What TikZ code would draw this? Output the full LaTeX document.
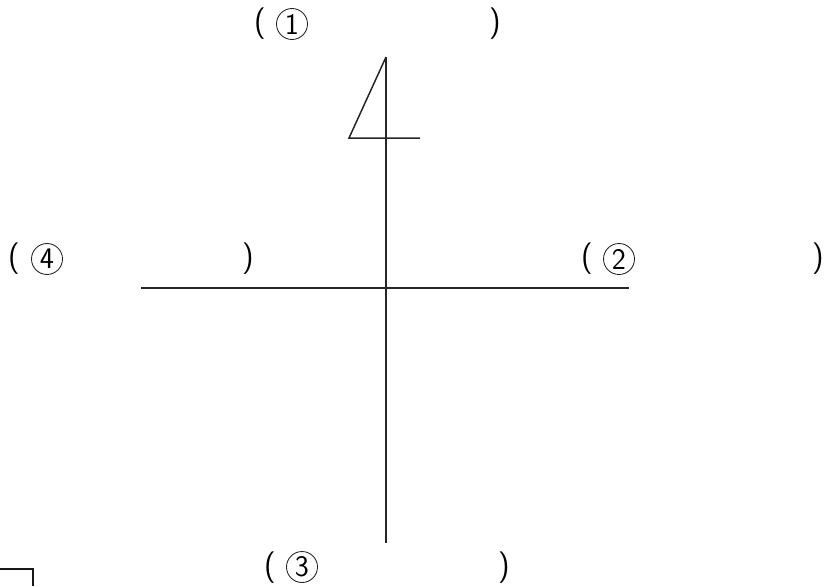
\documentclass[tikz,border=0pt]{standalone}
\usetikzlibrary{positioning}

\begin{document}
\begin{tikzpicture}[
  x=0.02cm, y=-0.02cm,
  par/.style={inner sep=0pt, anchor=center, font=\sffamily\fontsize{18}{20}\selectfont},
  num/.style={circle, draw=black!85, line width=0.5pt, minimum size=0.62cm, inner sep=0pt,
              anchor=center, font=\sffamily\fontsize{17}{19}\selectfont},
  axis/.style={draw=black!85, line width=0.85pt},
  frame/.style={draw=black!90, line width=1.1pt}
]
\useasboundingbox (0,0) rectangle (824,586);
% cross
\coordinate (top) at (386,57);
\coordinate (bot) at (386,543);
\coordinate (lft) at (141,288);
\coordinate (rgt) at (629,288);
\draw[axis] (top) -- (bot);
\draw[axis] (lft) -- (rgt);
% flag
\coordinate (fl) at (349,138);
\coordinate (fr) at (420,138);
\draw[axis] (top) -- (fl) -- (fr);
% labels
\node[par] (p1o) at (260,24) {(};
\node[num] (n1) at (292,24) {1};
\node[par] (p1c) at (495,24) {)};
\node[par] (p4o) at (14,259) {(};
\node[num] (n4) at (47,259) {4};
\node[par] (p4c) at (248,259) {)};
\node[par] (p2o) at (587,259) {(};
\node[num] (n2) at (619,259) {2};
\node[par] (p2c) at (818,259) {)};
\node[par] (p3o) at (270,568) {(};
\node[num] (n3) at (302,567) {3};
\node[par] (p3c) at (504,568) {)};
% corner box
\coordinate (b1) at (0,569);
\coordinate (b2) at (33,569);
\coordinate (b3) at (33,586);
\draw[frame] (b1) -- (b2) -- (b3);
\end{tikzpicture}
\end{document}
